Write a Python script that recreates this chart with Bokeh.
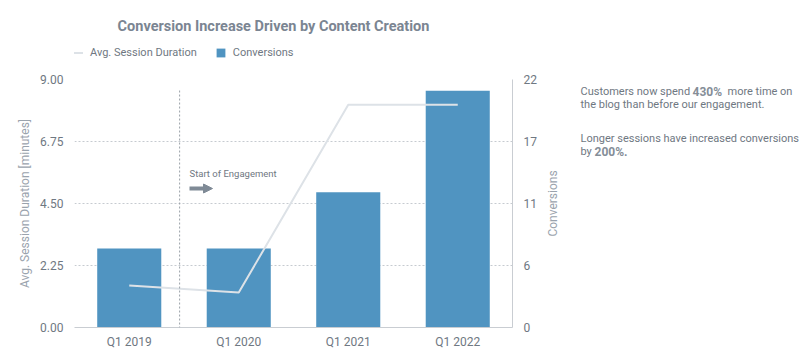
import math
from bokeh.plotting import figure
from bokeh.layouts import column, row
from bokeh.models import (ColumnDataSource, FactorRange, Range1d, LinearAxis, FixedTicker,
                          Legend, LegendItem, Label, Arrow, NormalHead)
from bokeh.embed import file_html
from bokeh.resources import INLINE

quarters = ["Q1 2019", "Q1 2020", "Q1 2021", "Q1 2022"]
conversions = [7, 7, 12, 21]
session_minutes = [1.52, 1.27, 8.08, 8.08]
left_ticks = [0, 2.25, 4.5, 6.75, 9]
left_tick_labels = ["0.00", "2.25", "4.50", "6.75", "9.00"]
right_ticks = [0, 5.5, 11, 16.5, 22]
right_tick_labels = ["0", "6", "11", "17", "22"]
engagement_pos = 0.96  # just before Q1 2020

FONT = "Roboto"
TXT = "#6f7882"
LIGHT = "#9aa3ad"
BAR = "#5094c1"
LINE = "#dde2e7"

W_LEFT = 545          # width of the chart column
H_HEAD = 66           # height of the header (title + legend)
PAGE_H = 351
FRAME_LEFT = 74       # column layouts align frames, so the header frame starts here too

src = ColumnDataSource(dict(q=quarters, conv=conversions, mins=session_minutes))

# ---------------- main chart ----------------
p = figure(width=W_LEFT, height=PAGE_H - H_HEAD, x_range=FactorRange(*quarters, range_padding=0),
           y_range=Range1d(0, 9), output_backend="svg", toolbar_location=None,
           min_border_left=FRAME_LEFT, min_border_right=33, min_border_top=13, min_border_bottom=24)
p.extra_y_ranges = {"conv": Range1d(0, 22)}
p.outline_line_color = None

bars = p.vbar(x="q", top="conv", width=0.585, source=src, y_range_name="conv",
              fill_color=BAR, line_color=None)
line = p.line(x="q", y="mins", source=src, line_color=LINE, line_width=2)

def style_axis(ax, size="12px"):
    ax.major_tick_line_color = None
    ax.minor_tick_line_color = None
    ax.major_tick_out = 0
    ax.major_tick_in = 0
    ax.minor_tick_out = 0
    ax.major_label_text_font = FONT
    ax.major_label_text_font_size = size
    ax.major_label_text_color = TXT
    ax.axis_label_text_font = FONT
    ax.axis_label_text_font_size = "12px"
    ax.axis_label_text_font_style = "normal"
    ax.axis_label_text_color = LIGHT

ya = p.yaxis[0]
ya.ticker = FixedTicker(ticks=left_ticks)
ya.major_label_overrides = {t: l for t, l in zip(left_ticks, left_tick_labels)}
ya.axis_label = "Avg. Session Duration [minutes]"
ya.axis_line_color = None
style_axis(ya)
ya.major_label_standoff = 11
ya.axis_label_standoff = 5

ra = LinearAxis(y_range_name="conv", ticker=FixedTicker(ticks=right_ticks))
ra.major_label_overrides = {t: l for t, l in zip(right_ticks, right_tick_labels)}
ra.axis_line_color = "#c9cdd2"
style_axis(ra)
ra.major_label_standoff = 11
p.add_layout(ra, "right")

xa = p.xaxis[0]
xa.axis_line_color = "#c9cdd2"
style_axis(xa)
xa.major_label_standoff = 7

p.xgrid.grid_line_color = None
p.ygrid.grid_line_color = "#c6cbd0"
p.ygrid.grid_line_dash = "2 2"

# engagement marker (callout in frame-relative screen coordinates)
p.add_layout(Arrow(end=None, x_start=engagement_pos, y_start=8.6, x_end=engagement_pos, y_end=0,
                   line_color="#9aa1a8", line_dash="2 2", line_width=1))
p.add_layout(Label(x=115, y=154, x_units="screen", y_units="screen",
                   text="Start of Engagement", text_font=FONT, text_font_size="9.5px",
                   text_color=TXT, text_baseline="middle"))
p.add_layout(Arrow(end=NormalHead(size=9, fill_color="#7f8a96", line_color="#7f8a96"),
                   x_start=115, y_start=139, x_end=138, y_end=139,
                   start_units="screen", end_units="screen",
                   line_color="#7f8a96", line_width=4))

# ---------------- header: title + legend ----------------
h = figure(width=W_LEFT, height=H_HEAD, x_range=Range1d(0, 1), y_range=Range1d(0, 1),
           output_backend="svg", toolbar_location=None, x_axis_type=None, y_axis_type=None,
           min_border=0)
h.outline_line_color = None
h.grid.visible = False
proxy = ColumnDataSource(dict(x=[-3, -2], y=[-3, -2]))   # off-screen legend proxies
hl = h.line(x="x", y="y", source=proxy, line_color=LINE, line_width=2)
hb = h.vbar(x="x", top="y", width=0.5, source=proxy, fill_color=BAR, line_color=None)
h.add_layout(Label(x=273 - FRAME_LEFT, y=H_HEAD - 26, x_units="screen", y_units="screen",
                   text="Conversion Increase Driven by Content Creation",
                   text_font=FONT, text_font_size="14.5px", text_font_style="bold",
                   text_color="#7b8592", text_align="center", text_baseline="middle"))
legend = Legend(items=[LegendItem(label="Avg. Session Duration", renderers=[hl]),
                       LegendItem(label="Conversions", renderers=[hb])],
                orientation="horizontal", location=(72 - FRAME_LEFT, 7),
                margin=0, padding=0, spacing=18, glyph_width=11, glyph_height=11,
                label_height=14, label_standoff=7, label_text_font=FONT,
                label_text_font_size="11px", label_text_color=TXT,
                border_line_color=None, background_fill_alpha=0)
h.add_layout(legend, "center")

# ---------------- right panel: axis title + side notes ----------------
n = figure(width=803 - W_LEFT, height=PAGE_H, x_range=Range1d(0, 1), y_range=Range1d(0, 1),
           output_backend="svg", toolbar_location=None, x_axis_type=None, y_axis_type=None,
           min_border=0)
n.outline_line_color = None
n.grid.visible = False

# right-axis title, reading bottom to top
n.add_layout(Label(x=552 - W_LEFT, y=PAGE_H - 203, x_units="screen", y_units="screen",
                   text="Conversions", angle=math.pi / 2, text_font=FONT, text_font_size="12px",
                   text_color=LIGHT, text_align="center", text_baseline="middle"))

def note(x, y, text, bold=False):
    # x, y: position in the page; converted to this panel's frame
    n.add_layout(Label(x=x - W_LEFT, y=PAGE_H - y, x_units="screen", y_units="screen", text=text,
                       text_font=FONT, text_font_size="12px" if bold else "11px",
                       text_font_style="bold" if bold else "normal",
                       text_color="#858e98" if bold else TXT, text_baseline="middle"))

note(580, 91, "Customers now spend")
note(692, 91, "430%", True)
note(727, 91, "more time on")
note(580, 104, "the blog than before our engagement.")
note(580, 138, "Longer sessions have increased conversions")
note(580, 151, "by")
note(594, 151, "200%.", True)

layout = row(column(h, p, spacing=0), n, spacing=0)
open("out.html", "w").write(file_html(layout, INLINE))
